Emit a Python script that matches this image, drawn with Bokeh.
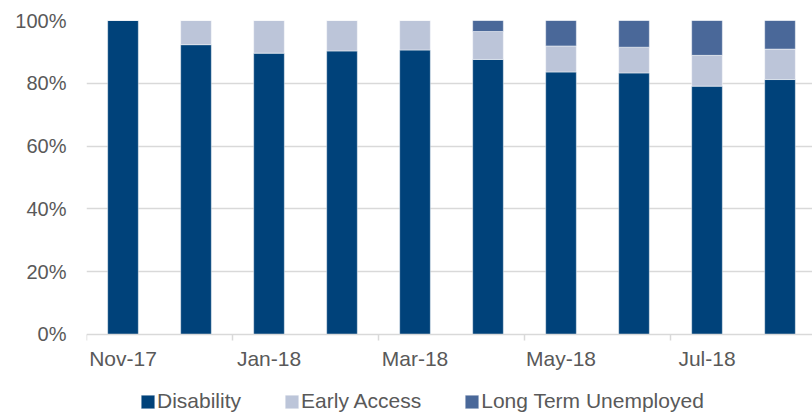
from bokeh.plotting import figure
from bokeh.models import Range1d, FixedTicker, Legend, LegendItem
from bokeh.embed import file_html
from bokeh.resources import INLINE

months = ["Nov-17", "Dec-17", "Jan-18", "Feb-18", "Mar-18", "Apr-18",
          "May-18", "Jun-18", "Jul-18", "Aug-18"]
disability = [100.0, 92.3, 89.6, 90.3, 90.6, 87.6, 83.6, 83.3, 79.1, 81.2]
early_access = [0.0, 7.7, 10.4, 9.7, 9.4, 8.9, 8.3, 8.2, 9.8, 9.7]
long_term_unemployed = [0.0, 0.0, 0.0, 0.0, 0.0, 3.5, 8.1, 8.5, 11.1, 9.1]
y_ticks = [0, 20, 40, 60, 80, 100]

series = ["Disability", "Early Access", "Long Term Unemployed"]
colors = ["#00427A", "#BCC5D9", "#4A6899"]

x = [i + 0.5 for i in range(len(months))]
data = dict(x=x, Disability=disability, **{"Early Access": early_access},
            **{"Long Term Unemployed": long_term_unemployed})

FONT = "Liberation Sans"
GREY = "#595959"
GRID = "#D9D9D9"

# frame extends below the 0% line to leave room for labels and legend
p = figure(frame_width=726, frame_height=393,
           output_backend="svg",
           toolbar_location=None, x_range=Range1d(0, 9.945),
           y_range=Range1d(-25.16, 100))
p.min_border_left = 86
p.min_border_top = 20
p.min_border_right = 0
p.min_border_bottom = 0
p.outline_line_color = None
p.background_fill_color = "white"

rs = p.vbar_stack(series, x="x", width=0.42, source=data, color=colors,
                  line_color="white", line_alpha=0.45, line_width=1)

# x axis anchored at 0%
xa = p.xaxis[0]
xa.fixed_location = 0
xa.ticker = FixedTicker(ticks=x[::2], minor_ticks=[x[i] - 0.5 for i in range(0, len(x), 2)])
xa.major_label_overrides = {x[i]: months[i] for i in range(0, len(months), 2)}
xa.major_tick_line_color = None
xa.major_tick_out = 6
xa.major_tick_in = 0
xa.minor_tick_line_color = GRID
xa.minor_tick_line_width = 1.5
xa.minor_tick_out = 6
xa.minor_tick_in = 0
xa.axis_line_color = GRID
xa.axis_line_width = 1.5
xa.major_label_text_font = FONT
xa.major_label_text_font_size = "21px"
xa.major_label_text_color = GREY
xa.major_label_standoff = 7

p.yaxis.ticker = FixedTicker(ticks=y_ticks, minor_ticks=[])
p.yaxis.major_label_overrides = {t: f"{t}%" for t in y_ticks}
p.yaxis.axis_line_color = None
p.yaxis.major_tick_line_color = None
p.yaxis.minor_tick_line_color = None
p.yaxis.major_tick_out = 0
p.yaxis.major_label_standoff = 20
p.yaxis.major_label_text_font = FONT
p.yaxis.major_label_text_font_size = "20px"
p.yaxis.major_label_text_color = GREY

p.xgrid.grid_line_color = None
p.ygrid.ticker = FixedTicker(ticks=y_ticks[1:])
p.ygrid.grid_line_color = GRID
p.ygrid.grid_line_width = 1.5

legend = Legend(items=[LegendItem(label=s, renderers=[r]) for s, r in zip(series, rs)],
                orientation="horizontal", location=(53, 0),
                glyph_width=17, glyph_height=17, label_standoff=1, spacing=42,
                padding=0, margin=0, border_line_color=None,
                background_fill_alpha=0,
                label_text_font=FONT, label_text_font_size="21px",
                label_text_color=GREY, label_height=21)
p.add_layout(legend, "center")

open("out.html", "w").write(file_html(p, INLINE))
